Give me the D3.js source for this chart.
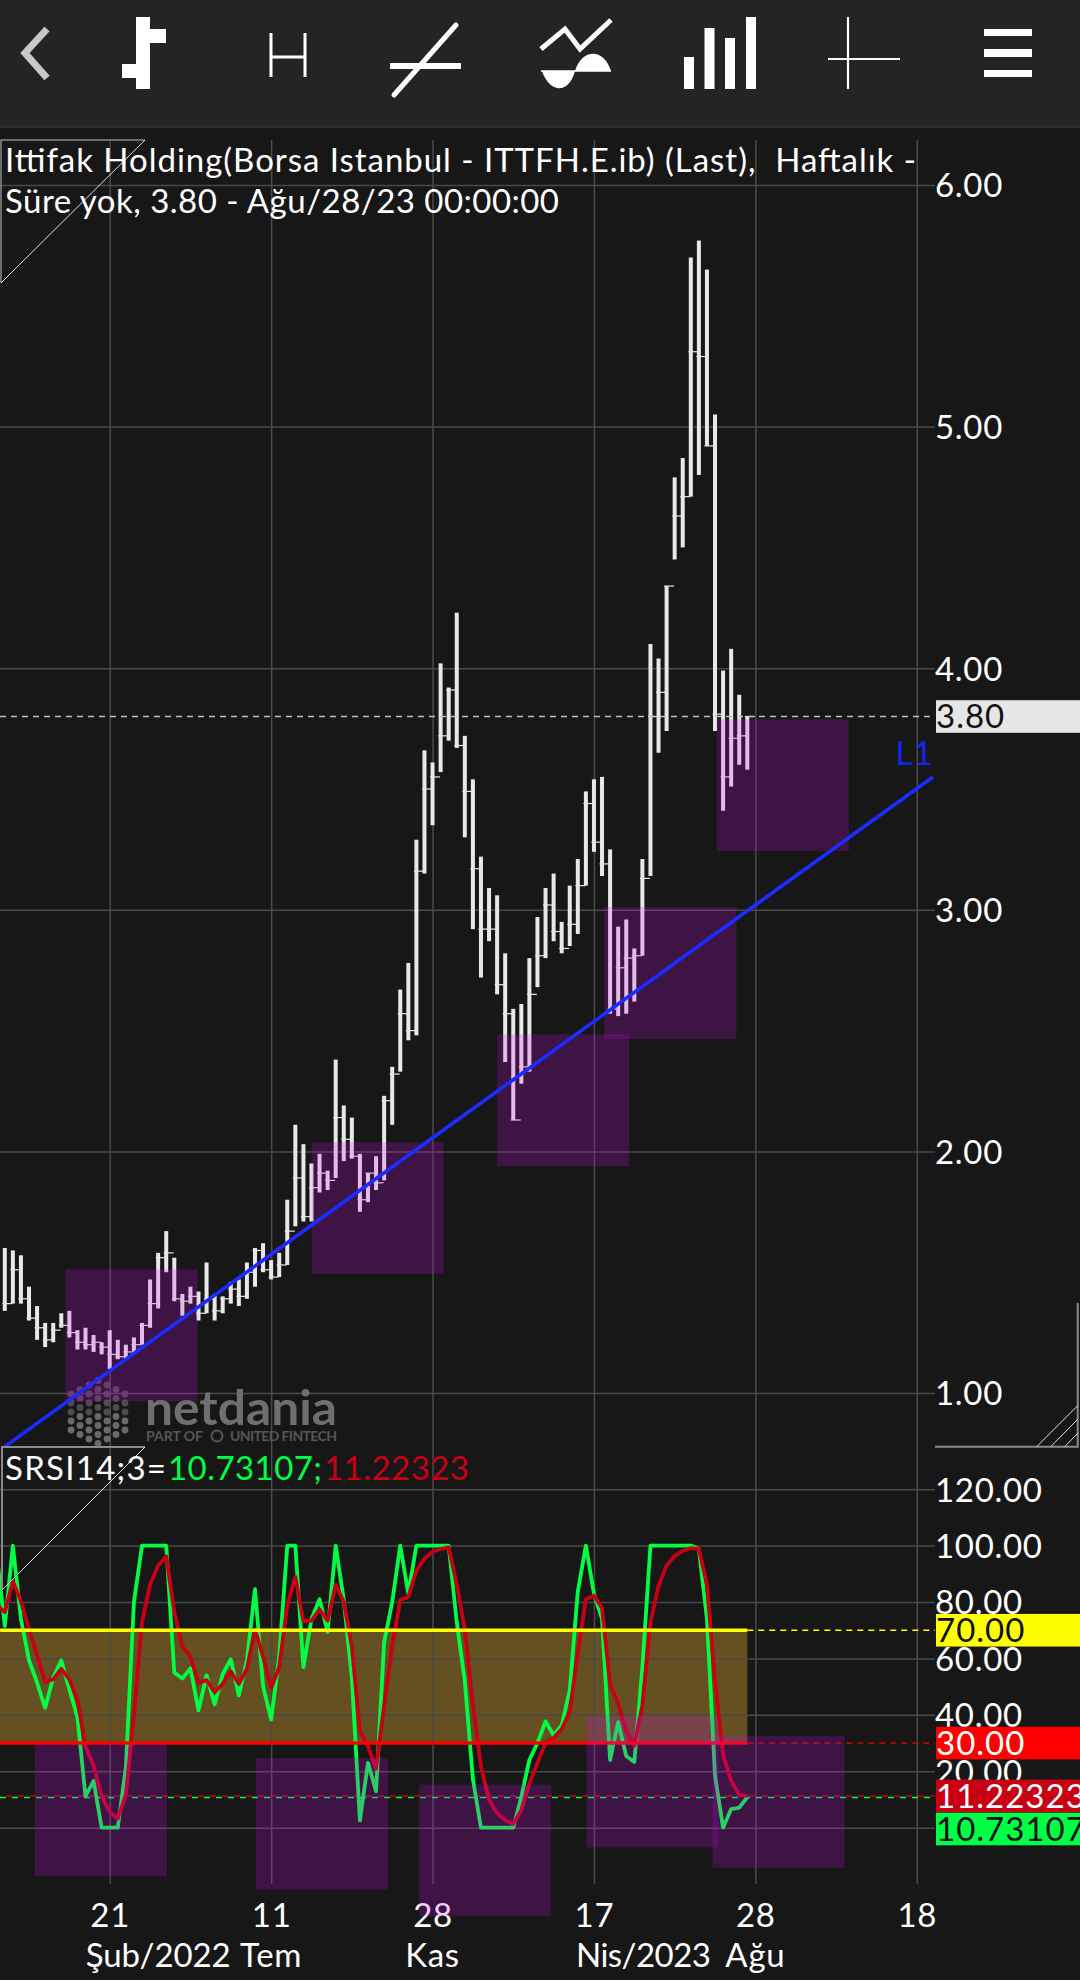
<!DOCTYPE html>
<html><head><meta charset="utf-8">
<script src="https://cdn.jsdelivr.net/npm/d3@7"></script>
<style>
html,body{margin:0;padding:0;background:#171717;}
svg{display:block;}
text{font-family:Lato,"Open Sans",sans-serif;white-space:pre;}
</style></head><body>
<svg id="c" width="1080" height="1980"></svg>
<script>
// ---------- data ----------
const highs=[1.60,1.59,1.57,1.44,1.36,1.29,1.29,1.33,1.34,1.26,
1.27,1.24,1.21,1.26,1.22,1.20,1.23,1.29,1.47,1.58,
1.67,1.56,1.41,1.44,1.42,1.54,1.41,1.40,1.46,1.47,
1.54,1.60,1.62,1.55,1.58,1.80,2.11,2.03,1.95,1.99,
1.92,2.38,2.19,2.14,1.99,1.91,1.98,2.23,2.35,2.67,
2.78,3.29,3.66,3.61,4.02,3.92,4.23,3.72,3.54,3.22,
3.09,3.06,2.82,2.59,2.61,2.80,2.97,3.09,3.15,2.95,
3.10,3.21,3.49,3.54,3.55,3.25,2.93,2.96,2.84,3.21,
4.10,4.04,4.34,4.79,4.87,5.70,5.77,5.65,5.05,3.99,
4.08,3.89,3.80];
const lows=[1.34,1.37,1.37,1.30,1.22,1.19,1.21,1.27,1.23,1.18,
1.18,1.17,1.16,1.10,1.14,1.14,1.17,1.20,1.27,1.35,
1.50,1.38,1.32,1.37,1.30,1.33,1.30,1.33,1.37,1.36,
1.39,1.44,1.50,1.47,1.48,1.53,1.69,1.71,1.71,1.83,
1.84,1.89,1.96,1.97,1.75,1.79,1.84,1.88,2.11,2.33,
2.46,2.48,3.15,3.35,3.57,3.70,3.67,3.30,2.92,2.72,
2.87,2.65,2.37,2.13,2.28,2.33,2.68,2.80,2.87,2.82,
2.85,2.90,3.10,3.24,3.14,2.57,2.56,2.57,2.62,2.81,
3.14,3.65,3.74,4.45,4.50,4.71,4.80,4.92,3.74,3.41,
3.51,3.60,3.58];
const closes=[1.37,1.51,1.39,1.31,1.27,1.22,1.26,1.28,1.25,1.21,
1.20,1.21,1.19,1.16,1.15,1.17,1.20,1.28,1.37,1.56,
1.58,1.39,1.38,1.40,1.33,1.39,1.34,1.39,1.43,1.40,
1.50,1.59,1.51,1.48,1.53,1.67,1.89,1.73,1.85,1.91,
1.88,2.14,2.05,1.98,1.80,1.91,1.87,2.21,2.32,2.57,
2.50,3.16,3.50,3.55,3.72,3.91,3.68,3.49,3.17,2.92,
2.92,2.69,2.57,2.13,2.35,2.65,2.81,3.02,2.91,2.84,
2.94,3.10,3.44,3.28,3.19,2.59,2.76,2.80,2.81,3.13,
3.80,3.90,4.34,4.63,4.71,5.31,5.29,4.92,3.81,3.55,
3.71,3.72,3.80];
// SRSI series start one bar before the first visible price bar
const srsiK=[97,71.5,100,74,59.3,51.4,42.5,53.2,59.3,49,39.2,
11.1,16.6,0,0,0,21.5,80,100,100,100,
100,55,52.9,56.5,41.6,54,43.7,54.5,59.7,46.9,
59.3,84.6,50.2,38.3,60.6,100,100,56.9,74,81,
69.4,100,80.7,53.2,2.6,23,12.9,65.7,80,100,
83,100,100,100,100,100,72.8,52,17.2,0,
0,0,0,0,11,24,30,37.7,32.8,36.3,
48.7,83.8,100,83,74,24,37.4,25.4,23.3,56.9,
100,100,100,100,100,100,98.8,74,18.4,0,
6.6,7.1,10.73107];
const srsiD=[78.9,76.4,87.4,80.3,70.3,61.2,51.8,52.6,56.3,52.6,45.3,
28.8,22.1,11.1,5.6,3.2,11.7,39.8,72.8,86.2,92.9,
96.2,76.4,64.2,60.6,51.4,52.3,48,51,55.4,51,
56.3,70.3,60.6,49.6,56.9,78.9,88.9,73.1,73.4,77.3,
73.4,86.2,80.1,64.2,34.3,28.8,20.9,43.5,64.2,80.7,
81.9,91.1,95.4,97.8,98.8,99.4,86.2,70.3,43.5,21.6,
9.8,5.2,2.7,1.3,6.2,15.7,23,30,31.8,35,
41,61.8,81,82.3,77.9,50.8,44,34.3,29,43.5,
72.8,85.6,92.9,96.3,98.2,99.1,98.8,86.2,52,25.8,
16.6,11.7,11.22323];
const priceTicks=[1,2,3,4,5,6];
const srsiTicks=[0,20,40,60,80,100,120];
const gridBars=[13,33,53,73,93,113];
const dayLabels=["21","11","28","17","28","18"];
const monthLabels=["Şub/2022","Tem","Kas","Nis/2023","Ağu"];
const priceBoxStart=[7.51,38.02,60.99,74.29,88.22];
const priceBoxTop=[1.512,2.038,2.485,3.011,3.789];
const priceBoxBars=16.36, priceBoxSpan=0.546;
const srsiBoxStart=[3.74,31.11,51.33,72.08,87.70];
const srsiBoxTop=[29.5,24.7,15.3,39.7,32.5];
const srsiBoxSpan=46.7;
const trendBars=[0,115], trendPrices=[0.778,3.55];
const lastPrice=3.80, srsiLevels=[70,30];
const lastK=10.73107, lastD=11.22323;

// ---------- scales ----------
const svg=d3.select("#c");
const x=d3.scaleLinear().domain([0,92]).range([4.8,747.3]);
const yP=d3.scaleLinear().domain([1,6]).range([1393,185]);
const yS=d3.scaleLinear().domain([0,120]).range([1827.7,1489.2]);
const axisX=935, fontSize=33, spacing=0.7;
const barEnd=x(92);

// ---------- toolbar ----------
const tb=svg.append("g");
tb.append("rect").attr("width",1080).attr("height",125).attr("fill","#242424");
tb.append("rect").attr("y",125).attr("width",1080).attr("height",3).attr("fill","#2e2e2e");
tb.append("path").attr("d","M47,29L25,53L47,78").attr("fill","none").attr("stroke","#c8c8c8").attr("stroke-width",7);
[[136,17,14,72],[150,29,16,14],[122,64,14,14],
 [684,57,10,32],[704.5,28,10,61],[725,38,10,51],[746,17,10,72],
 [984,29,48,7],[984,49,48,8],[984,70,48,7]].forEach(r=>
  tb.append("rect").attr("x",r[0]).attr("y",r[1]).attr("width",r[2]).attr("height",r[3]).attr("fill","#fff"));
tb.append("path").attr("d","M271,33V77M305,33V77M271,57H305").attr("fill","none").attr("stroke","#fff").attr("stroke-width",3);
tb.append("path").attr("d","M390,66H461").attr("stroke","#fff").attr("stroke-width",6);
tb.append("path").attr("d","M456,25L394,95").attr("stroke","#fff").attr("stroke-width",5).attr("stroke-linecap","round");
tb.append("path").attr("d","M541,49L565,29L580,49L611,20").attr("fill","none").attr("stroke","#fff").attr("stroke-width",5);
tb.append("path").attr("d","M541,71H611").attr("stroke","#fff").attr("stroke-width",1.5);
tb.append("path").attr("d","M542,71C549,92 568,96 575,71Z M575,71C582,48 604,48 611,71Z").attr("fill","#fff");
tb.append("path").attr("d","M848,17V89M828,59H900").attr("stroke","#fff").attr("stroke-width",2.2);

// ---------- band ----------
svg.append("rect").attr("x",0).attr("width",barEnd)
  .attr("y",yS(srsiLevels[0])).attr("height",yS(srsiLevels[1])-yS(srsiLevels[0])).attr("fill","#655022");

// ---------- grid & axes ----------
const grid="#4a4a4a";
function styleAxis(g){
  g.select(".domain").remove();
  g.selectAll(".tick line").attr("stroke",grid).attr("stroke-width",1.5);
  g.selectAll(".tick text").attr("fill","#fff").attr("font-size",fontSize).attr("font-family","Lato").attr("letter-spacing",spacing);
}
svg.append("g").attr("transform",`translate(0,1884)`)
  .call(d3.axisBottom(x).tickValues(gridBars).tickSize(-(1884-140)).tickPadding(20)
        .tickFormat((d,i)=>dayLabels[i])).call(styleAxis);
function yAxis(scale,ticks,fmt){
  svg.append("g").attr("transform",`translate(${axisX},0)`)
    .call(d3.axisRight(scale).tickValues(ticks).tickSize(-axisX).tickPadding(0).tickFormat(fmt))
    .call(styleAxis).selectAll(".tick text").attr("dy","0.36em");
}
yAxis(yP,priceTicks,d3.format(".2f"));
yAxis(yS,srsiTicks,d=>d===0?"":d3.format(".2f")(d));

// month labels
const monthX=[[x(13)-24,"start",145],[x(33),"middle",null],[x(53),"middle",null],[x(73)-18,"start",135],[x(93),"middle",null]];
svg.append("g").selectAll("text").data(monthLabels).join("text")
  .attr("x",(d,i)=>monthX[i][0]).attr("text-anchor",(d,i)=>monthX[i][1]).attr("y",1967)
  .attr("textLength",(d,i)=>monthX[i][2]).attr("lengthAdjust","spacing")
  .attr("fill","#fff").attr("font-size",fontSize).attr("letter-spacing",(d,i)=>monthX[i][2]?0:spacing).text(d=>d);

// ---------- watermark ----------
const wm=svg.append("g");
for(let c=-3;c<=3;c++){
  const n=8-Math.abs(c);
  for(let j=0;j<n;j++){
    wm.append("circle").attr("cx",98+c*9).attr("cy",1412+(j-(n-1)/2)*9).attr("r",3.4).attr("fill",j<n/2?"#4d4c4e":"#6a696b");
  }
}
wm.append("text").attr("x",145).attr("y",1425).attr("font-size",48).attr("font-weight",700).attr("fill","#6f6e70")
  .attr("textLength",192).attr("lengthAdjust","spacingAndGlyphs").text("netdania");
wm.append("text").attr("x",146).attr("y",1441).attr("font-size",14).attr("font-weight",700).attr("fill","#565558")
  .attr("textLength",57).text("PART OF");
wm.append("text").attr("x",230).attr("y",1441).attr("font-size",14).attr("font-weight",700).attr("fill","#565558")
  .attr("textLength",107).text("UNITED FINTECH");
wm.append("circle").attr("cx",217).attr("cy",1436).attr("r",5.5).attr("fill","none").attr("stroke","#565558").attr("stroke-width",2);

// ---------- OHLC bars ----------
const bars=svg.append("g");
const barCol="#e8e8e8";
bars.selectAll("rect").data(highs).join("rect")
  .attr("x",(d,i)=>x(i)-2).attr("width",4)
  .attr("y",d=>yP(d)).attr("height",(d,i)=>yP(lows[i])-yP(d)).attr("fill",barCol);
bars.selectAll("line").data(closes).join("line")
  .attr("x1",(d,i)=>x(i)-2.5).attr("x2",(d,i)=>x(i)+7.5)
  .attr("y1",d=>yP(d)).attr("y2",d=>yP(d)).attr("stroke",barCol).attr("stroke-width",1.2);

// ---------- dashed current lines ----------
const dash=svg.append("g").attr("fill","none");
function hd(y,x0,col,arr,off){
  dash.append("line").attr("x1",x0).attr("x2",axisX).attr("y1",y).attr("y2",y)
   .attr("stroke",col).attr("stroke-width",1.5).attr("stroke-dasharray",arr).attr("stroke-dashoffset",off||0);
}
hd(yP(lastPrice),0,"#c0c0c0","6,5");
hd(yS(srsiLevels[0]),barEnd,"#ffff00","6,5");
hd(yS(srsiLevels[1]),barEnd,"#d40000","6,5");
hd(yS(lastK),0,"#00ff44","6,6",0);
hd(yS(lastD),0,"#c80014","6,6",6);

// ---------- SRSI ----------
const lineGen=d3.line().x((d,i)=>x(i-1)).y(d=>yS(d)).curve(d3.curveLinear);
svg.append("path").datum(srsiK).attr("d",lineGen).attr("fill","none").attr("stroke","#00ff44").attr("stroke-width",3.8).attr("stroke-linejoin","round");
svg.append("path").datum(srsiD).attr("d",lineGen).attr("fill","none").attr("stroke","#c80014").attr("stroke-width",3.8).attr("stroke-linejoin","round");
// level lines
svg.append("line").attr("x1",0).attr("x2",barEnd).attr("y1",yS(70)).attr("y2",yS(70)).attr("stroke","#ffff00").attr("stroke-width",3.5);
svg.append("line").attr("x1",0).attr("x2",barEnd).attr("y1",yS(30)).attr("y2",yS(30)).attr("stroke","#ff0000").attr("stroke-width",3.5);

// ---------- purple boxes ----------
const boxFill="rgba(215,10,245,0.2)";
const boxes=svg.append("g");
boxes.selectAll(".p").data(priceBoxStart).join("rect").attr("class","p")
  .attr("x",d=>x(d)).attr("width",d=>x(d+priceBoxBars)-x(d))
  .attr("y",(d,i)=>yP(priceBoxTop[i])).attr("height",(d,i)=>yP(priceBoxTop[i]-priceBoxSpan)-yP(priceBoxTop[i]))
  .attr("fill",boxFill);
boxes.selectAll(".s").data(srsiBoxStart).join("rect").attr("class","s")
  .attr("x",d=>x(d)).attr("width",d=>x(d+priceBoxBars)-x(d))
  .attr("y",(d,i)=>yS(srsiBoxTop[i])).attr("height",(d,i)=>yS(srsiBoxTop[i]-srsiBoxSpan)-yS(srsiBoxTop[i]))
  .attr("fill",boxFill);

// ---------- trend line ----------
svg.append("line").attr("x1",x(trendBars[0])).attr("y1",yP(trendPrices[0]))
  .attr("x2",x(trendBars[1])).attr("y2",yP(trendPrices[1]))
  .attr("stroke","#1c2cff").attr("stroke-width",3.6);
svg.append("text").attr("x",933).attr("y",765).attr("text-anchor","end").attr("font-size",fontSize).attr("letter-spacing",spacing).attr("fill","#1226e6").text("L1");

// ---------- pane frames ----------
const fr=svg.append("g").attr("fill","none");
fr.append("path").attr("d","M1,283V140H145").attr("stroke","#8a8a8a").attr("stroke-width",1.5);
fr.append("path").attr("d","M145,140L1,283").attr("stroke","#e0e0e0").attr("stroke-width",1);
fr.append("path").attr("d","M2,1590V1447H145").attr("stroke","#8a8a8a").attr("stroke-width",2);
fr.append("path").attr("d","M145,1447L2,1590").attr("stroke","#e0e0e0").attr("stroke-width",1);
fr.append("path").attr("d","M935,1446.7H1077.7V1303").attr("stroke","#8a8a8a").attr("stroke-width",2);
fr.append("path").attr("d","M1036.7,1446.7L1077.7,1405.7M1050.7,1446.7L1077.7,1419.3M1064.7,1446.7L1077.7,1433.3").attr("stroke","#e0e0e0").attr("stroke-width",1);

// ---------- titles ----------
svg.append("text").attr("x",5).attr("y",172).attr("font-size",fontSize).attr("fill","#fff")
  .attr("textLength",911).attr("lengthAdjust","spacing").text("Ittifak Holding(Borsa Istanbul - ITTFH.E.ib) (Last),  Haftalık -");
svg.append("text").attr("x",5).attr("y",213).attr("font-size",fontSize).attr("fill","#fff")
  .attr("textLength",554).attr("lengthAdjust","spacing").text("Süre yok, 3.80 - Ağu/28/23 00:00:00");
[[5,161,"#fff","SRSI14;3="],[168,154,"#00ff44",lastK.toFixed(5)+";"],[324,145,"#c80014",lastD.toFixed(5)]].forEach(t=>
  svg.append("text").attr("x",t[0]).attr("y",1480).attr("font-size",fontSize).attr("fill",t[2])
    .attr("textLength",t[1]).attr("lengthAdjust","spacing").text(t[3]));

// ---------- value tags ----------
const tags=[
 [yP(lastPrice),"#e6e6e6","#111",lastPrice.toFixed(2)],
 [yS(70),"#ffff00","#111","70.00"],
 [yS(30),"#ff0000","#fff","30.00"],
 [1796,"#c80014","#fff",lastD.toFixed(5)],
 [1829,"#00ff44","#111",lastK.toFixed(5)]];
const tg=svg.append("g");
tags.forEach(t=>{
  tg.append("rect").attr("x",axisX+1).attr("width",145).attr("y",t[0]-16.3).attr("height",32.6).attr("fill",t[1]);
  tg.append("text").attr("x",axisX+1).attr("y",t[0]).attr("dy","0.36em").attr("font-size",fontSize).attr("letter-spacing",spacing+0.3).attr("fill",t[2]).text(t[3]);
});
</script>
</body></html>
